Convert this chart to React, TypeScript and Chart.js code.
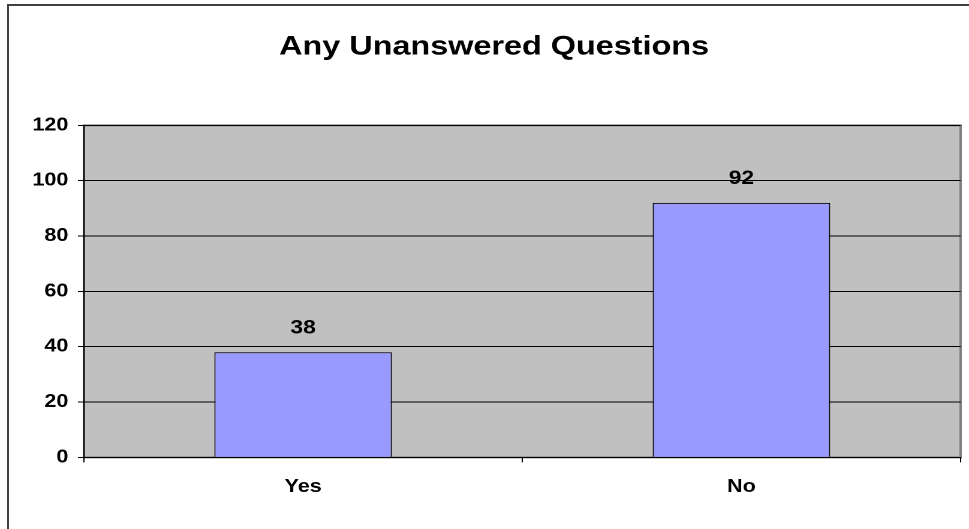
import React, { useEffect, useRef } from "react";
import { Chart, registerables } from "chart.js";

Chart.register(...registerables);

const chartTitle = "Any Unanswered Questions";
const categories = ["Yes", "No"];
const values = [38, 92];
const yMin = 0;
const yMax = 120;
const yStep = 20;

const PAGE_W = 969;
const PAGE_H = 529;
const STRETCH_X = 1.2;
const LOGICAL_W = Math.round(PAGE_W / STRETCH_X);
const FONT = "'Liberation Sans', Arial, Helvetica, sans-serif";

const plotBackground = {
  id: "plotBackground",
  beforeDraw(chart: any) {
    const { ctx, chartArea } = chart;
    if (!chartArea) return;
    ctx.save();
    ctx.fillStyle = "#C0C0C0";
    ctx.fillRect(chartArea.left, chartArea.top, chartArea.right - chartArea.left, chartArea.bottom - chartArea.top);
    ctx.strokeStyle = "#808080";
    ctx.lineWidth = 2;
    ctx.strokeRect(chartArea.left, chartArea.top, chartArea.right - chartArea.left, chartArea.bottom - chartArea.top);
    ctx.restore();
  },
};

const valueLabels = {
  id: "valueLabels",
  afterDatasetsDraw(chart: any) {
    const { ctx } = chart;
    ctx.save();
    ctx.font = `bold 19px ${FONT}`;
    ctx.fillStyle = "#000";
    ctx.textAlign = "center";
    ctx.textBaseline = "alphabetic";
    chart.data.datasets.forEach((ds: any, di: number) => {
      const meta = chart.getDatasetMeta(di);
      meta.data.forEach((el: any, i: number) => {
        ctx.fillText(String(ds.data[i]), el.x, el.y - 19);
      });
    });
    ctx.restore();
  },
};

export default function App() {
  const ref = useRef<HTMLCanvasElement | null>(null);

  useEffect(() => {
    if (!ref.current) return;
    const chart = new Chart(ref.current, {
      type: "bar",
      data: {
        labels: categories,
        datasets: [
          {
            data: values,
            backgroundColor: "#9999FF",
            borderColor: "#000000",
            borderWidth: 1,
            barPercentage: 0.405,
            categoryPercentage: 1,
          },
        ],
      },
      options: {
        animation: false,
        responsive: false,
        devicePixelRatio: 2,
        layout: { padding: { left: 23, right: 7, top: 0, bottom: 17 } },
        plugins: {
          legend: { display: false },
          tooltip: { enabled: false },
          title: {
            display: true,
            text: chartTitle,
            color: "#000",
            font: { family: FONT, size: 27, weight: "bold" },
            padding: { top: 31, bottom: 62 },
          },
        },
        scales: {
          x: {
            grid: {
              offset: true,
              drawOnChartArea: false,
              drawTicks: true,
              tickLength: 5,
              color: "#000",
            },
            border: { display: true, color: "#000", width: 1 },
            ticks: {
              color: "#000",
              font: { family: FONT, size: 18, weight: "bold" },
              padding: 14,
            },
          },
          y: {
            min: yMin,
            max: yMax,
            afterFit(scale: any) {
              scale.width = 47;
            },
            grid: {
              color: "#000",
              lineWidth: 1,
              drawTicks: true,
              tickLength: 5,
            },
            border: { display: true, color: "#000", width: 1 },
            ticks: {
              stepSize: yStep,
              color: "#000",
              font: { family: FONT, size: 18, weight: "bold" },
              padding: 8,
            },
          },
        },
      },
      plugins: [plotBackground, valueLabels],
    } as any);
    return () => chart.destroy();
  }, []);

  return (
    <div
      style={{
        position: "fixed",
        left: 0,
        top: 0,
        width: PAGE_W,
        height: PAGE_H,
        overflow: "hidden",
        background: "#fff",
      }}
    >
      <div
        style={{
          position: "absolute",
          left: 7,
          top: 4,
          width: PAGE_W + 20,
          height: PAGE_H + 20,
          border: "2px solid #404040",
        }}
      />
      <canvas
        ref={ref}
        width={LOGICAL_W}
        height={PAGE_H}
        style={{ position: "absolute", left: 0, top: 0, width: PAGE_W, height: PAGE_H }}
      />
    </div>
  );
}
